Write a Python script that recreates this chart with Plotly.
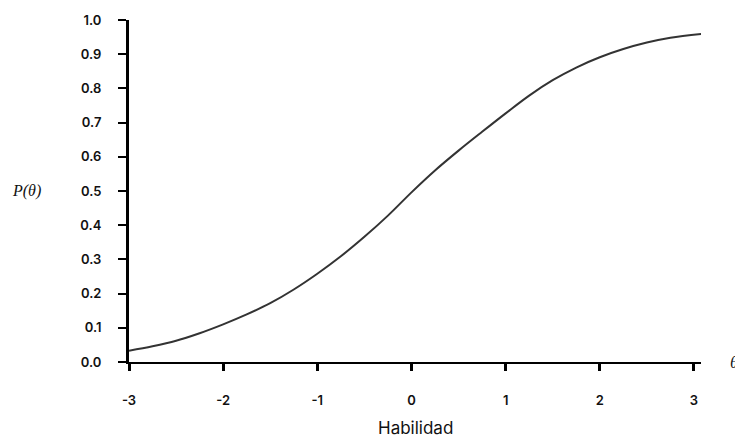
import plotly.graph_objects as go

# Values
theta = [-3.0, -2.75, -2.5, -2.25, -2.0, -1.75, -1.5, -1.25, -1.0, -0.75, -0.5, -0.25,
         0.0, 0.25, 0.5, 0.75, 1.0, 1.25, 1.5, 1.75, 2.0, 2.25, 2.5, 2.75, 3.1]
prob = [0.033, 0.046, 0.062, 0.084, 0.110, 0.139, 0.172, 0.212, 0.258, 0.309, 0.366, 0.428,
        0.496, 0.560, 0.618, 0.673, 0.727, 0.779, 0.824, 0.861, 0.891, 0.915, 0.934, 0.948, 0.960]

x_ticks = [-3, -2, -1, 0, 1, 2, 3]
x_tick_labels = ["-3", "-2", "-1", "0", "1", "2", "3"]
y_ticks = [0.0, 0.1, 0.2, 0.3, 0.4, 0.5, 0.6, 0.7, 0.8, 0.9, 1.0]
y_tick_labels = ["0.0", "0.1", "0.2", "0.3", "0.4", "0.5", "0.6", "0.7", "0.8", "0.9", "1.0"]

fig = go.Figure()
fig.add_trace(go.Scatter(
    x=theta, y=prob, mode="lines",
    line=dict(color="#333333", width=2, shape="spline", smoothing=1.0),
    cliponaxis=False, showlegend=False, hoverinfo="skip",
))

tick_font = dict(family="Inter", size=13, color="#111111", weight=600)

fig.update_layout(
    width=735, height=437,
    margin=dict(l=129, r=34, t=15, b=75),
    paper_bgcolor="white", plot_bgcolor="white",
    xaxis=dict(
        range=[-3, 3.075], tickvals=x_ticks, ticktext=x_tick_labels,
        showgrid=False, zeroline=False,
        showline=True, linecolor="black", linewidth=2,
        ticks="outside", ticklen=7, tickwidth=3, tickcolor="black",
        ticklabelstandoff=18, tickfont=tick_font,
    ),
    yaxis=dict(
        range=[0, 1], tickvals=y_ticks, ticktext=y_tick_labels,
        showgrid=False, zeroline=False,
        showline=True, linecolor="black", linewidth=3,
        ticks="outside", ticklen=8, tickwidth=2, tickcolor="black",
        ticklabelstandoff=14, tickfont=tick_font,
    ),
    annotations=[
        dict(text="Habilidad", x=0.5, y=0, yshift=-66, xref="paper", yref="paper",
             yanchor="middle", showarrow=False,
             font=dict(family="Inter", size=17, color="#111111")),
        dict(text="<i>P(θ)</i>", xref="paper", yref="paper", x=-0.18, y=0.5,
             xanchor="center", yanchor="middle", showarrow=False,
             font=dict(family="Liberation Serif", size=16, color="#111111")),
        dict(text="<i>θ</i>", xref="paper", yref="paper", x=1.0, y=0.0,
             xanchor="left", yanchor="middle", xshift=27, showarrow=False,
             font=dict(family="Liberation Serif", size=17, color="#111111")),
    ],
)
fig.write_html("out.html", config={"displayModeBar": False},
               post_script="document.body.style.margin='0';")
